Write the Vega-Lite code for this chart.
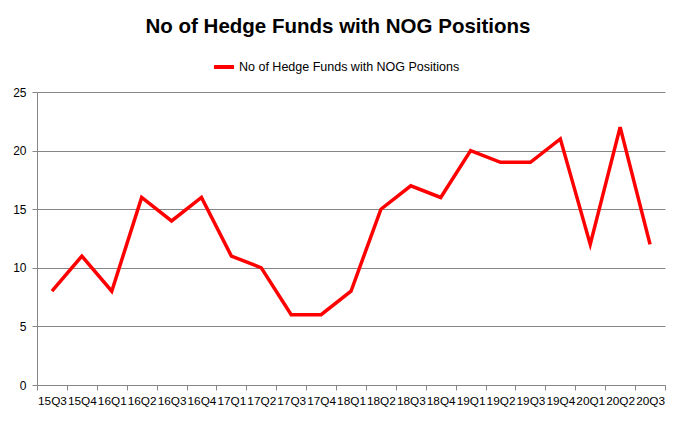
{
  "$schema": "https://vega.github.io/schema/vega-lite/v6.json",
  "autosize": "none",
  "width": 628,
  "height": 293,
  "padding": {"left": 37, "top": 92, "right": 12, "bottom": 46},
  "background": "white",
  "title": {
    "text": "No of Hedge Funds with NOG Positions",
    "font": "Liberation Sans",
    "fontSize": 20.5,
    "fontWeight": "bold",
    "color": "#000000",
    "anchor": "middle",
    "dx": -13,
    "offset": 18
  },
  "data": {
    "values": [
      {"q": "15Q3", "v": 8, "s": "No of Hedge Funds with NOG Positions"},
      {"q": "15Q4", "v": 11, "s": "No of Hedge Funds with NOG Positions"},
      {"q": "16Q1", "v": 8, "s": "No of Hedge Funds with NOG Positions"},
      {"q": "16Q2", "v": 16, "s": "No of Hedge Funds with NOG Positions"},
      {"q": "16Q3", "v": 14, "s": "No of Hedge Funds with NOG Positions"},
      {"q": "16Q4", "v": 16, "s": "No of Hedge Funds with NOG Positions"},
      {"q": "17Q1", "v": 11, "s": "No of Hedge Funds with NOG Positions"},
      {"q": "17Q2", "v": 10, "s": "No of Hedge Funds with NOG Positions"},
      {"q": "17Q3", "v": 6, "s": "No of Hedge Funds with NOG Positions"},
      {"q": "17Q4", "v": 6, "s": "No of Hedge Funds with NOG Positions"},
      {"q": "18Q1", "v": 8, "s": "No of Hedge Funds with NOG Positions"},
      {"q": "18Q2", "v": 15, "s": "No of Hedge Funds with NOG Positions"},
      {"q": "18Q3", "v": 17, "s": "No of Hedge Funds with NOG Positions"},
      {"q": "18Q4", "v": 16, "s": "No of Hedge Funds with NOG Positions"},
      {"q": "19Q1", "v": 20, "s": "No of Hedge Funds with NOG Positions"},
      {"q": "19Q2", "v": 19, "s": "No of Hedge Funds with NOG Positions"},
      {"q": "19Q3", "v": 19, "s": "No of Hedge Funds with NOG Positions"},
      {"q": "19Q4", "v": 21, "s": "No of Hedge Funds with NOG Positions"},
      {"q": "20Q1", "v": 12, "s": "No of Hedge Funds with NOG Positions"},
      {"q": "20Q2", "v": 22, "s": "No of Hedge Funds with NOG Positions"},
      {"q": "20Q3", "v": 12, "s": "No of Hedge Funds with NOG Positions"}
    ]
  },
  "mark": {"type": "line", "strokeWidth": 3.5, "strokeJoin": "miter"},
  "encoding": {
    "x": {
      "field": "q",
      "type": "ordinal",
      "sort": null,
      "scale": {"type": "band", "paddingInner": 0, "paddingOuter": 0},
      "axis": {
        "title": null,
        "labelAngle": 0,
        "labelOverlap": false,
        "labelFont": "Liberation Sans",
        "labelFontSize": 11.8,
        "labelColor": "#000000",
        "labelPadding": 5,
        "tickBand": "extent",
        "tickSize": 5,
        "tickColor": "#868686",
        "domainColor": "#868686",
        "grid": false
      }
    },
    "y": {
      "field": "v",
      "type": "quantitative",
      "scale": {"domain": [0, 25], "nice": false},
      "axis": {
        "title": null,
        "values": [0, 5, 10, 15, 20, 25],
        "labelFont": "Liberation Sans",
        "labelFontSize": 12,
        "labelColor": "#000000",
        "labelPadding": 6,
        "tickSize": 5,
        "tickColor": "#868686",
        "domainColor": "#868686",
        "gridColor": "#868686",
        "gridOpacity": 1,
        "gridWidth": 1
      }
    },
    "color": {
      "field": "s",
      "type": "nominal",
      "scale": {"range": ["#ff0000"]},
      "legend": {
        "title": null,
        "orient": "none",
        "legendX": 175,
        "legendY": -37,
        "symbolType": "stroke",
        "symbolStrokeWidth": 4,
        "symbolSize": 400,
        "labelFont": "Liberation Sans",
        "labelFontSize": 12.5,
        "labelLimit": 400,
        "labelColor": "#000000",
        "labelOffset": 3
      }
    }
  },
  "config": {"view": {"stroke": null}}
}
